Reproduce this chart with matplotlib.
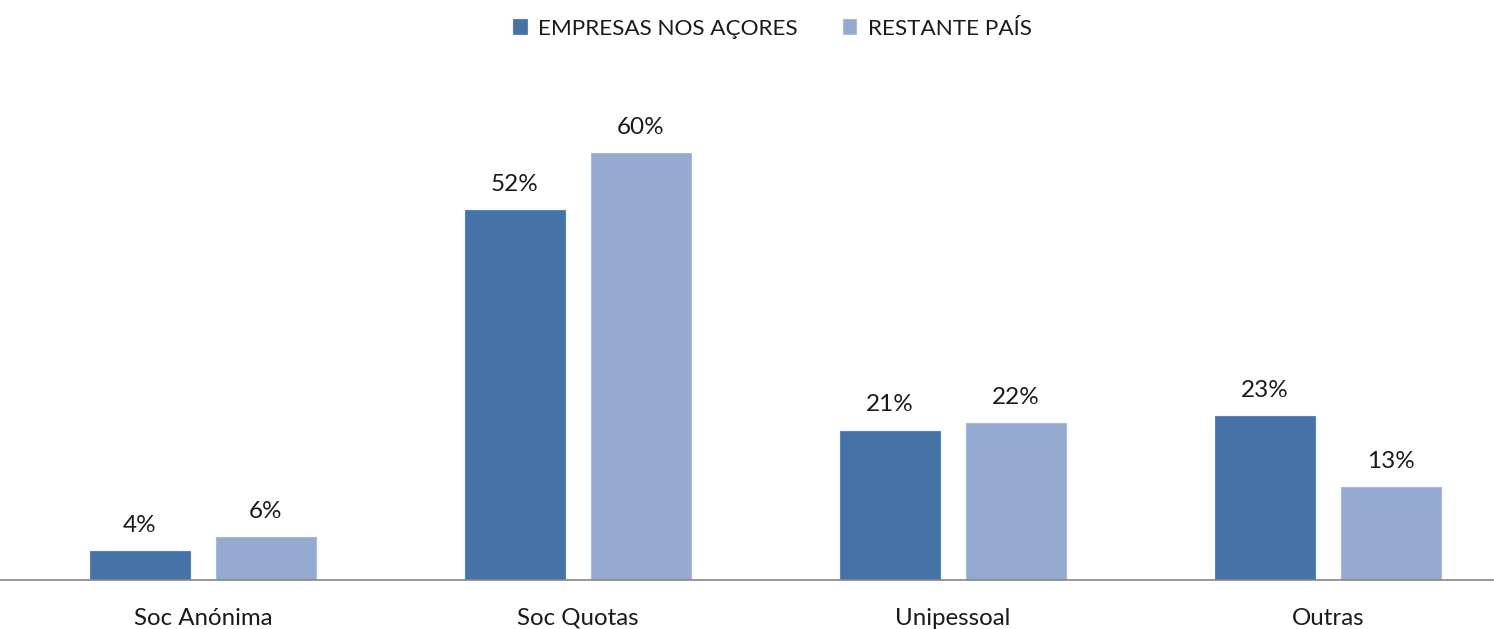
import numpy as np
import matplotlib.pyplot as plt

categories = ['Soc Anónima', 'Soc Quotas', 'Unipessoal', 'Outras']
acores = [4, 52, 21, 23]
restante = [6, 60, 22, 13]
series_names = ['EMPRESAS NOS AÇORES', 'RESTANTE PAÍS']

dark = '#4673A7'
light = '#95AAD1'
text_color = '#1a1a1a'

plt.rcParams['font.family'] = ['Lato', 'DejaVu Sans']

fig = plt.figure(figsize=(14.94, 6.29), dpi=100)
ax = fig.add_axes([0, 0.078, 1, 0.922])

x = np.arange(len(categories))
w = 0.267
off = 0.168
b1 = ax.bar(x - off, acores, w, color=dark, edgecolor='#5a84b5', linewidth=0.8, label=series_names[0])
b2 = ax.bar(x + off, restante, w, color=light, edgecolor='#a8bade', linewidth=0.8, label=series_names[1])

for bars, vals in [(b1, acores), (b2, restante)]:
    for r, v in zip(bars, vals):
        ax.annotate(f'{v}%', (r.get_x() + r.get_width() / 2, v),
                    xytext=(0, 11), textcoords='offset points',
                    ha='center', va='bottom', fontsize=17.5, color=text_color)

ax.set_xlim(-0.541, 3.443)
ax.set_ylim(0, 81.5)
ax.set_xticks(x)
ax.set_xticklabels(categories, fontsize=17.3, color=text_color)
ax.tick_params(axis='x', length=0, pad=20)
ax.set_yticks([])
for s in ['top', 'left', 'right']:
    ax.spines[s].set_visible(False)
ax.spines['bottom'].set_color('#868686')
ax.spines['bottom'].set_linewidth(1.2)

ax.legend(loc='upper center', bbox_to_anchor=(0.517, 1.003), ncol=2, frameon=False,
          fontsize=16.2, handlelength=0.6, handleheight=0.6, handletextpad=0.5,
          columnspacing=2.0, labelcolor=text_color)

fig.savefig('out.png', dpi=100)
